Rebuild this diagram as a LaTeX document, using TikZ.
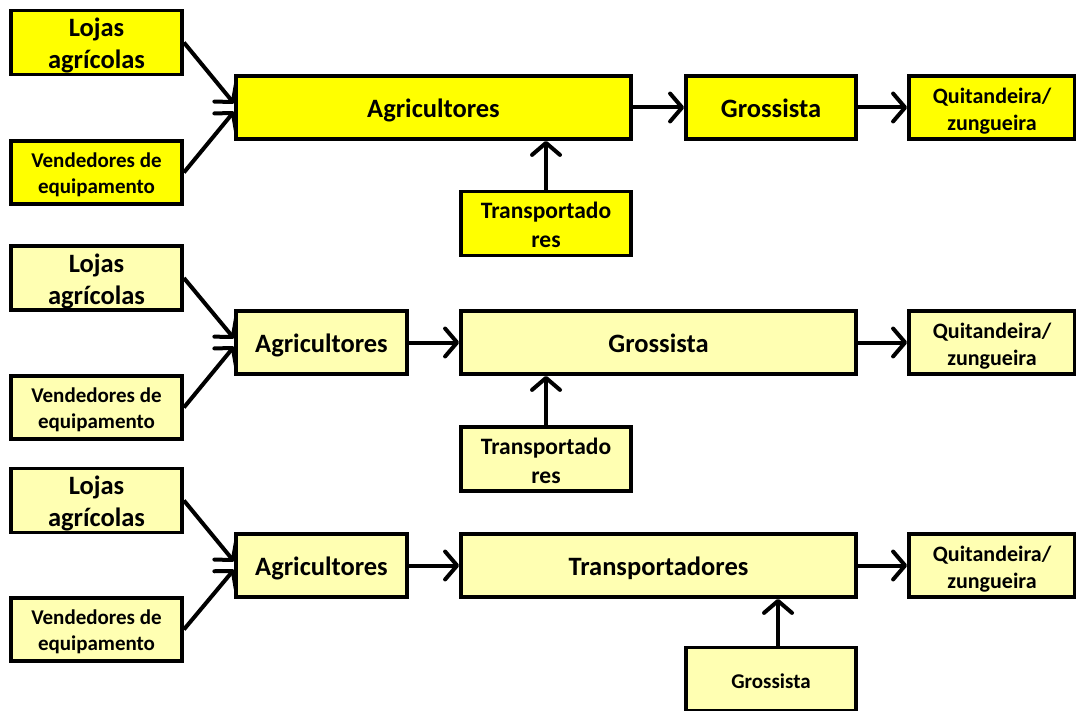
\documentclass[tikz,border=0pt]{standalone}
\usepackage{fontspec}
\setmainfont{Carlito}
\usetikzlibrary{arrows.meta}
\definecolor{hiyel}{RGB}{255,255,0}
\definecolor{paleyel}{RGB}{255,255,178}
% stacked, centred label lines, lowered by \lblshift without changing the box size
\def\lblshift{0pt}
\newcommand\lbl[1]{\raisebox{\lblshift}[\height][\depth]{\begin{tabular}{@{}c@{}}#1\end{tabular}}}
\begin{document}
\begin{tikzpicture}[x=1pt,y=-1pt,
  box/.style={draw=black, line width=3.8pt, rectangle, inner sep=0pt, text=black},
  hi/.style={box, fill=hiyel},
  pale/.style={box, fill=paleyel},
  big/.style={font=\fontsize{26.5}{32}\selectfont\bfseries\def\lblshift{-4pt}},
  mid/.style={font=\fontsize{22}{27}\selectfont\bfseries\def\lblshift{-4.5pt}},
  midb/.style={font=\fontsize{23.5}{29}\selectfont\bfseries\def\lblshift{-4pt}},
  small/.style={font=\fontsize{21}{26}\selectfont\bfseries\def\lblshift{-3pt}},
  smallb/.style={font=\fontsize{21}{26}\selectfont\bfseries\def\lblshift{-4pt}},
  side/.style={minimum width=171pt, minimum height=63pt},
  flow/.style={line width=4pt, -{Straight Barb[length=12pt,width=28pt,line width=4pt,round]}},
]
\useasboundingbox (0,0) rectangle (1076,711);

% ---------- first chain ----------
\node[hi, big, side] (loj1) at (96.5,42.5) {\lbl{Lojas\\agrícolas}};
\node[hi, small, side] (ven1) at (96.5,172.5) {\lbl{Vendedores de\\equipamento}};
\node[hi, big, minimum width=395pt, minimum height=63pt] (agr1) at (433.5,107.5) {\lbl{Agricultores}};
\node[hi, big, minimum width=170pt, minimum height=63pt] (gro1) at (771,107.5) {\lbl{Grossista}};
\node[hi, mid, minimum width=166pt, minimum height=63pt] (qui1) at (992,107.5) {\lbl{Quitandeira/\\zungueira}};
\node[hi, midb, minimum width=170pt, minimum height=64pt] (tra1) at (546,223.5) {\lbl{Transportado\\res}};

\draw[flow] (loj1.east) -- ([yshift=4pt]agr1.west);
\draw[flow] (ven1.east) -- ([yshift=-4pt]agr1.west);
\draw[flow] (agr1.east) -- (gro1.west);
\draw[flow] (gro1.east) -- (qui1.west);
\draw[flow] (tra1.north) -- (tra1.north |- agr1.south);

% ---------- second chain ----------
\node[pale, big, side] (loj2) at (96.5,278) {\lbl{Lojas\\agrícolas}};
\node[pale, small, side] (ven2) at (96.5,407.5) {\lbl{Vendedores de\\equipamento}};
\node[pale, big, minimum width=171pt, minimum height=63pt] (agr2) at (321.5,342.5) {\lbl{Agricultores}};
\node[pale, big, minimum width=395pt, minimum height=63pt] (gro2) at (658.5,342.5) {\lbl{Grossista}};
\node[pale, mid, minimum width=166pt, minimum height=63pt] (qui2) at (992,342.5) {\lbl{Quitandeira/\\zungueira}};
\node[pale, midb, minimum width=170pt, minimum height=64pt] (tra2) at (546,459) {\lbl{Transportado\\res}};

\draw[flow] (loj2.east) -- ([yshift=4pt]agr2.west);
\draw[flow] (ven2.east) -- ([yshift=-4pt]agr2.west);
\draw[flow] (agr2.east) -- (gro2.west);
\draw[flow] (gro2.east) -- (qui2.west);
\draw[flow] (tra2.north) -- (tra2.north |- gro2.south);

% ---------- third chain ----------
\node[pale, big, side] (loj3) at (96.5,500.5) {\lbl{Lojas\\agrícolas}};
\node[pale, small, side] (ven3) at (96.5,629.5) {\lbl{Vendedores de\\equipamento}};
\node[pale, big, minimum width=171pt, minimum height=63pt] (agr3) at (321.5,565.5) {\lbl{Agricultores}};
\node[pale, big, minimum width=395pt, minimum height=63pt] (tra3) at (658.5,565.5) {\lbl{Transportadores}};
\node[pale, mid, minimum width=166pt, minimum height=63pt] (qui3) at (992,565.5) {\lbl{Quitandeira/\\zungueira}};
\node[pale, smallb, minimum width=170pt, minimum height=63pt] (gro3) at (771,679) {\lbl{Grossista}};

\draw[flow] (loj3.east) -- ([yshift=4pt]agr3.west);
\draw[flow] (ven3.east) -- ([yshift=-4pt]agr3.west);
\draw[flow] (agr3.east) -- (tra3.west);
\draw[flow] (tra3.east) -- (qui3.west);
\draw[flow] ([xshift=7pt]gro3.north) -- ([xshift=7pt]gro3.north |- tra3.south);
\end{tikzpicture}
\end{document}
